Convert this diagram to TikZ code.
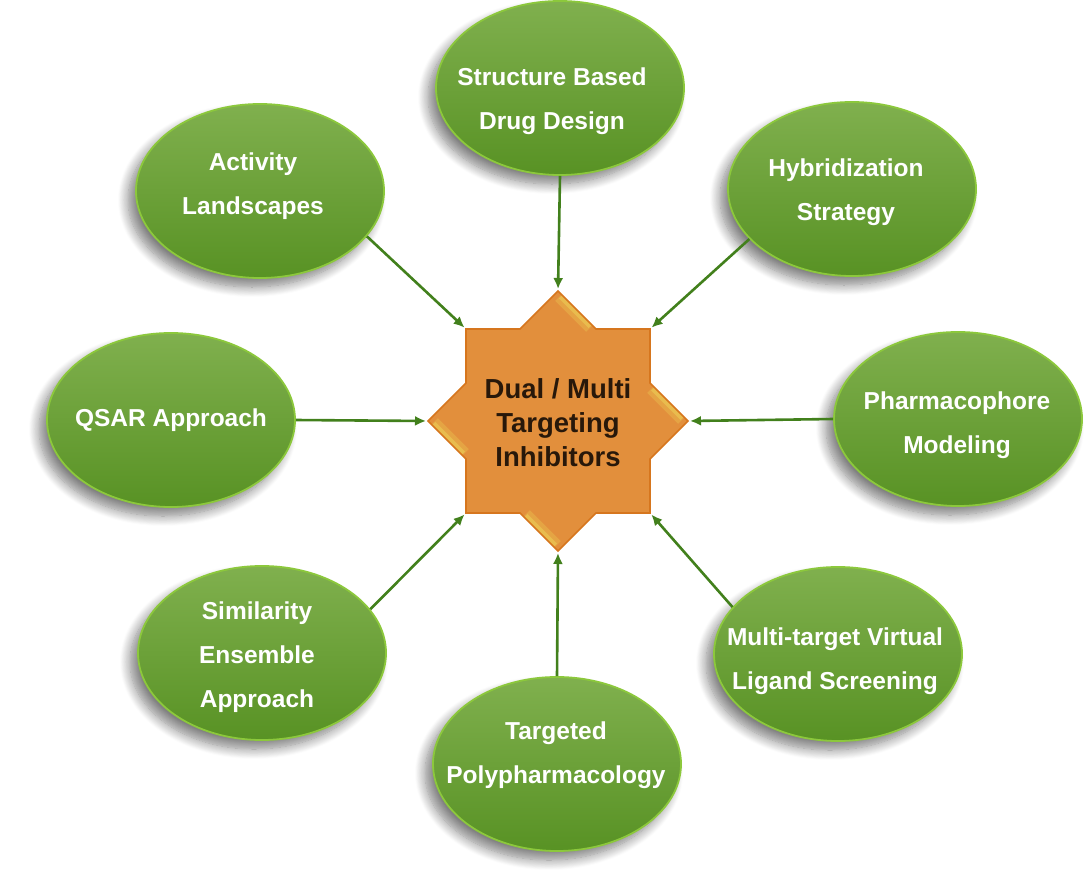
\documentclass[tikz,border=0pt]{standalone}
\usepackage{fontspec}
\setmainfont{Liberation Sans}
\usetikzlibrary{shapes.geometric,arrows.meta,shadows.blur}

\definecolor{gtop}{RGB}{128,176,78}
\definecolor{gbot}{RGB}{88,146,36}
\definecolor{grim}{RGB}{140,200,60}
\definecolor{garrow}{RGB}{66,128,28}
\definecolor{ofill}{RGB}{226,143,60}
\definecolor{oline}{RGB}{214,118,30}
\definecolor{obevel}{RGB}{236,205,85}
\definecolor{otext}{RGB}{40,24,10}

\begin{document}
\begin{tikzpicture}[x=1pt,y=-1pt,
  bubble/.style={ellipse, minimum width=248pt, minimum height=174pt, inner sep=0pt,
    top color=gtop, bottom color=gbot, draw=grim, line width=1.8pt,
    blur shadow={shadow xshift=-8pt, shadow yshift=-9pt, shadow blur radius=10pt,
      shadow blur steps=12, shadow opacity=50}},
  btext/.style={text=white, font=\fontsize{24.5}{44}\selectfont\bfseries, align=center},
  arr/.style={draw=garrow, line width=2.6pt, -{Latex[length=11pt,width=10pt]}, shorten >=2pt},
]
\useasboundingbox (0,0) rectangle (1089,886);

% ---- star coordinates ----
\coordinate (tN)   at (558,291);
\coordinate (iNE1) at (596,329);
\coordinate (cNE)  at (650,329);
\coordinate (iNE2) at (650,383);
\coordinate (tE)   at (688,421);
\coordinate (iSE1) at (650,459);
\coordinate (cSE)  at (650,513);
\coordinate (iSE2) at (596,513);
\coordinate (tS)   at (558,551);
\coordinate (iSW1) at (520,513);
\coordinate (cSW)  at (466,513);
\coordinate (iSW2) at (466,459);
\coordinate (tW)   at (428,421);
\coordinate (iNW1) at (466,383);
\coordinate (cNW)  at (466,329);
\coordinate (iNW2) at (520,329);

% ---- ellipses ----
\node[bubble] (sbdd) at (560,88) {};
\node[bubble] (hyb)  at (852,189) {};
\node[bubble] (pha)  at (958,419) {};
\node[bubble] (mul)  at (838,654) {};
\node[bubble] (tar)  at (557,764) {};
\node[bubble] (sim)  at (262,653) {};
\node[bubble] (qsar) at (171,420) {};
\node[bubble] (act)  at (260,191) {};

\node[btext] (sbddT) at (552,101) {Structure Based\\Drug Design};
\node[btext] (hybT)  at (846,192) {Hybridization\\Strategy};
\node[btext] (phaT)  at (957,425) {Pharmacophore\\Modeling};
\node[btext] (mulT)  at (835,661) {Multi-target Virtual\\Ligand Screening};
\node[btext] (tarT)  at (556,755) {Targeted\\Polypharmacology};
\node[btext] (simT)  at (257,657) {Similarity\\Ensemble\\Approach};
\node[btext] (qsarT) at (171,420) {QSAR Approach};
\node[btext] (actT)  at (253,186) {Activity\\Landscapes};

% ---- star ----
\fill[ofill] (tN) -- (iNE1) -- (cNE) -- (iNE2) -- (tE) -- (iSE1) -- (cSE) -- (iSE2)
  -- (tS) -- (iSW1) -- (cSW) -- (iSW2) -- (tW) -- (iNW1) -- (cNW) -- (iNW2) -- cycle;
\begin{scope}
  \clip (tN) -- (iNE1) -- (cNE) -- (iNE2) -- (tE) -- (iSE1) -- (cSE) -- (iSE2)
    -- (tS) -- (iSW1) -- (cSW) -- (iSW2) -- (tW) -- (iNW1) -- (cNW) -- (iNW2) -- cycle;
  \foreach \a/\b in {tN/iNE1, iNE2/tE, tW/iSW2, iSW1/tS} {
    \draw[obevel, line width=18pt, opacity=0.35, shorten <=5pt, shorten >=5pt] (\a) -- (\b);
    \draw[obevel, line width=9pt, opacity=0.6, shorten <=6pt, shorten >=6pt] (\a) -- (\b);
  }
\end{scope}
\draw[oline, line width=1.6pt, line join=miter] (tN) -- (iNE1) -- (cNE) -- (iNE2) -- (tE) -- (iSE1) -- (cSE) -- (iSE2)
  -- (tS) -- (iSW1) -- (cSW) -- (iSW2) -- (tW) -- (iNW1) -- (cNW) -- (iNW2) -- cycle;

\node[text=otext, font=\fontsize{27.5}{34}\selectfont\bfseries, align=center] (hub) at (558,423)
  {Dual / Multi\\Targeting\\Inhibitors};

% ---- arrows ----
\draw[arr] (sbdd.south) -- (tN);
\draw[arr] (hyb.-154.8) -- (cNE);
\draw[arr] (pha.west) -- (tE);
\draw[arr] (mul.156.3) -- (cSE);
\draw[arr] (tar.north) -- (tS);
\draw[arr] (sim.22.6) -- (cSW);
\draw[arr] (qsar.east) -- (tW);
\draw[arr] (act.-23.1) -- (cNW);
\end{tikzpicture}
\end{document}
